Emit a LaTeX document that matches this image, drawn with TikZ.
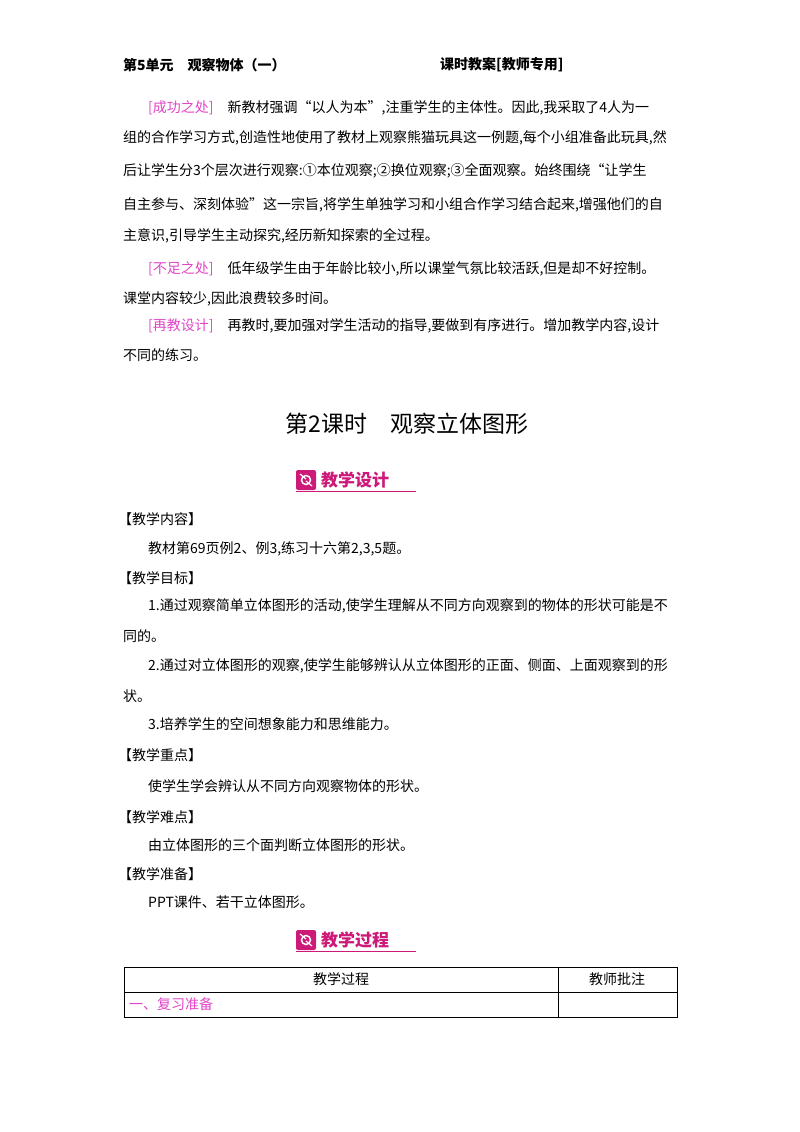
\documentclass[tikz,border=0pt]{standalone}
\usepackage{fontspec}
\setmainfont{Noto Sans CJK SC}
\definecolor{pk}{RGB}{225,70,200}
\definecolor{mg}{RGB}{205,25,120}
\begin{document}
\begin{tikzpicture}[x=1pt,y=-1pt,
  tx/.style={anchor=west,inner sep=0pt,font=\fontsize{14}{16}\selectfont},
  hd/.style={anchor=west,inner sep=0pt,font=\fontsize{14}{16}\selectfont\bfseries},
  lb/.style={text=pk}]
\useasboundingbox[fill=white] (0,0) rectangle (800,1132);
\node[hd] (h1) at (123,65) {第5单元\quad 观察物体（一）};
\node[hd] (h2) at (440,65) {课时教案[教师专用]};
\node[tx] (p1) at (148,108) {\textcolor{pk}{[成功之处]}\quad 新教材强调“以人为本”,注重学生的主体性。因此,我采取了4人为一};
\node[tx] (p2) at (123,138) {组的合作学习方式,创造性地使用了教材上观察熊猫玩具这一例题,每个小组准备此玩具,然};
\node[tx] (p3) at (123,171) {后让学生分3个层次进行观察:①本位观察;②换位观察;③全面观察。始终围绕“让学生};
\node[tx] (p4) at (123,205) {自主参与、深刻体验”这一宗旨,将学生单独学习和小组合作学习结合起来,增强他们的自};
\node[tx] (p5) at (123,236) {主意识,引导学生主动探究,经历新知探索的全过程。};
\node[tx] (p6) at (148,269) {\textcolor{pk}{[不足之处]}\quad 低年级学生由于年龄比较小,所以课堂气氛比较活跃,但是却不好控制。};
\node[tx] (p7) at (123,299) {课堂内容较少,因此浪费较多时间。};
\node[tx] (p8) at (148,326) {\textcolor{pk}{[再教设计]}\quad 再教时,要加强对学生活动的指导,要做到有序进行。增加教学内容,设计};
\node[tx] (p9) at (123,355) {不同的练习。};
\node[inner sep=0pt,font=\fontsize{23}{26}\selectfont] (title) at (407,424) {第2课时\quad 观察立体图形};
\foreach \y/\t/\n in {480/教学设计/b1,940/教学过程/b2}{
  \fill[mg,rounded corners=2pt] (296,\y-10) rectangle (316,\y+10);
  \draw[white,line width=1.5pt] (306,\y) circle (4.5);
  \fill[mg] (306,\y) circle (2);
  \draw[white,line width=1.2pt] (300,\y-6) -- (306,\y-1) (312,\y+6) -- (306,\y+1);
  \node[anchor=west,inner sep=0pt,text=mg,font=\fontsize{17}{19}\selectfont\bfseries] (\n) at (321,\y) {\t};
  \draw[mg,line width=0.8pt] (296,\y+11) -- (416,\y+11);
}
\node[tx] (s1) at (118,519) {【教学内容】};
\node[tx] (s1a) at (148,549) {教材第69页例2、例3,练习十六第2,3,5题。};
\node[tx] (s2) at (118,578) {【教学目标】};
\node[tx] (s2a) at (148,606) {1.通过观察简单立体图形的活动,使学生理解从不同方向观察到的物体的形状可能是不};
\node[tx] (s2b) at (123,636) {同的。};
\node[tx] (s2c) at (148,666) {2.通过对立体图形的观察,使学生能够辨认从立体图形的正面、侧面、上面观察到的形};
\node[tx] (s2d) at (123,696) {状。};
\node[tx] (s2e) at (148,724) {3.培养学生的空间想象能力和思维能力。};
\node[tx] (s3) at (118,755) {【教学重点】};
\node[tx] (s3a) at (148,786) {使学生学会辨认从不同方向观察物体的形状。};
\node[tx] (s4) at (118,817) {【教学难点】};
\node[tx] (s4a) at (148,845) {由立体图形的三个面判断立体图形的形状。};
\node[tx] (s5) at (118,874) {【教学准备】};
\node[tx] (s5a) at (148,902) {PPT课件、若干立体图形。};
\draw[line width=0.7pt] (124,967) rectangle (677,1017);
\draw[line width=0.6pt] (124,992) -- (677,992);
\draw[line width=0.6pt] (558,967) -- (558,1017);
\node[inner sep=0pt,font=\fontsize{14}{16}\selectfont] (c1) at (341,979) {教学过程};
\node[inner sep=0pt,font=\fontsize{14}{16}\selectfont] (c2) at (617,979) {教师批注};
\node[tx,text=pk] (c3) at (129,1004) {一、复习准备};
\end{tikzpicture}
\end{document}
